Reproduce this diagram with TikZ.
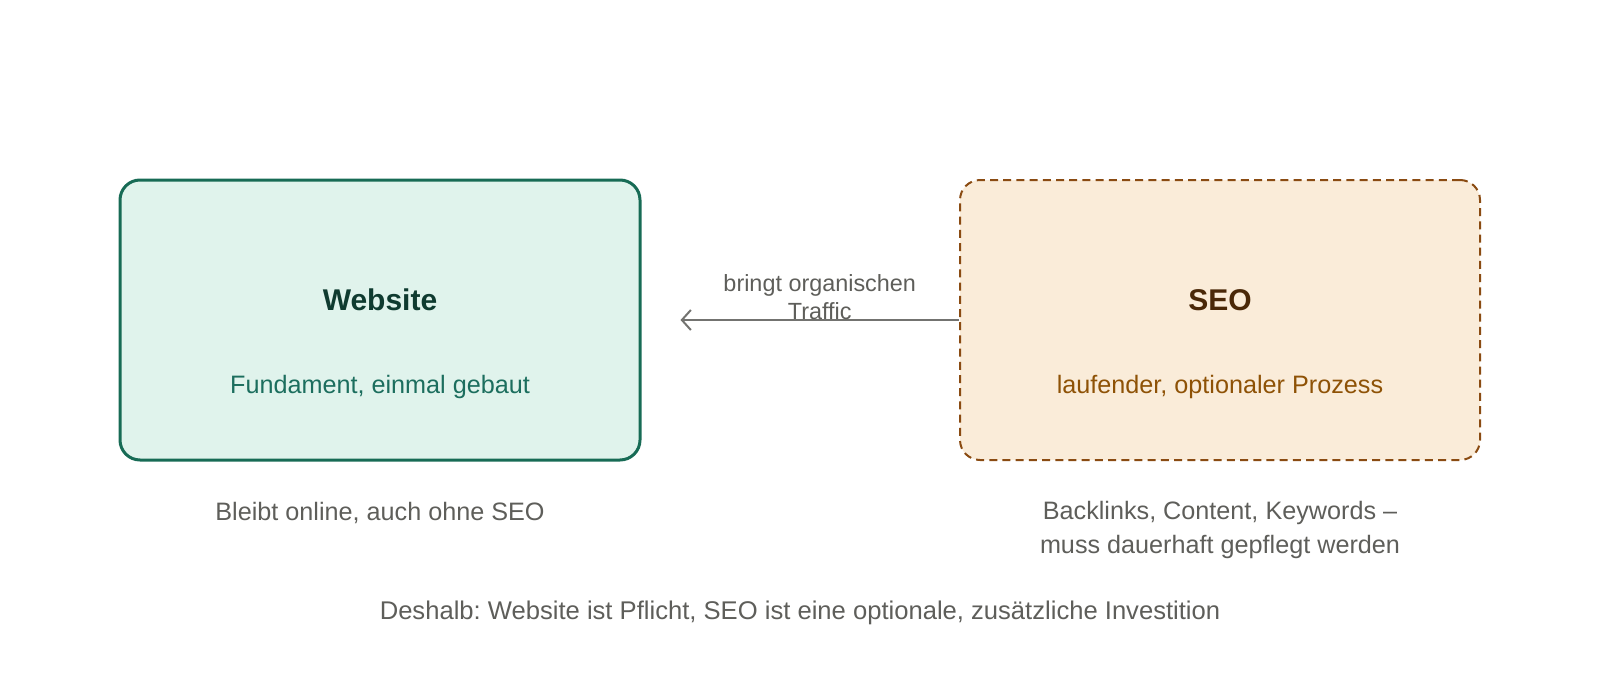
\documentclass[tikz,border=0pt]{standalone}
\usepackage{fontspec}
\setmainfont{Liberation Sans}
\usepackage{xcolor}
\usetikzlibrary{arrows.meta, positioning}
\frenchspacing

\definecolor{webfill}{HTML}{E0F3EC}
\definecolor{webline}{HTML}{176B55}
\definecolor{webtitle}{HTML}{0F3B30}
\definecolor{websub}{HTML}{1C6E5E}
\definecolor{seofill}{HTML}{FAECD9}
\definecolor{seoline}{HTML}{8A4B12}
\definecolor{seotitle}{HTML}{4A2808}
\definecolor{seosub}{HTML}{8E5206}
\definecolor{notegray}{HTML}{5E5E5A}
\definecolor{arrowgray}{HTML}{737370}

\begin{document}
\begin{tikzpicture}[x=0.5pt, y=-0.5pt,
        box/.style={rectangle, rounded corners=10pt, minimum width=260pt, minimum height=140pt},
        title/.style={font=\fontsize{15}{18}\selectfont\bfseries, anchor=base},
        sub/.style={font=\fontsize{12.6}{15}\selectfont, anchor=base},
        note/.style={font=\fontsize{12.6}{17}\selectfont, text=notegray, align=center, inner sep=0pt},
        arrow/.style={-{Straight Barb[length=4.5pt, width=10pt]}, line width=1pt, draw=arrowgray}
    ]
        \useasboundingbox (0,0) rectangle (1600,680);

        % Website
        \node[box, draw=webline, fill=webfill, line width=1.5pt] (web) at (380,320) {};
        \node[title, text=webtitle] (webhead) at (380,310) {Website};
        \node[sub, text=websub] (websubline) at (380,393) {Fundament, einmal gebaut};

        % SEO
        \node[box, draw=seoline, fill=seofill, line width=1pt, dash pattern=on 4pt off 2.6pt] (seo) at (1220,320) {};
        \node[title, text=seotitle] (seohead) at (1220,310) {SEO};
        \node[sub, text=seosub] (seosubline) at (1220,393) {laufender, optionaler Prozess};

        % Arrow
        \coordinate (tip) at ([xshift=19.5pt]web.east);
        \draw[arrow] (seo.west) -- (tip)
            node[midway, anchor=south, yshift=-0.5pt, inner sep=0pt, align=center, text=notegray,
                 font=\fontsize{11.7}{14}\selectfont] (trafficlbl) {bringt organischen\\Traffic};

        % Notes
        \node[note, below=20pt of web] (webnote) {Bleibt online, auch ohne SEO};
        \node[note, below=20pt of seo] (seonote) {Backlinks, Content, Keywords --\\muss dauerhaft gepflegt werden};
        \node[note, anchor=base, font=\fontsize{12.8}{17}\selectfont] (summary) at (800,619) {Deshalb: Website ist Pflicht, SEO ist eine optionale, zusätzliche Investition};
    \end{tikzpicture}
\end{document}
